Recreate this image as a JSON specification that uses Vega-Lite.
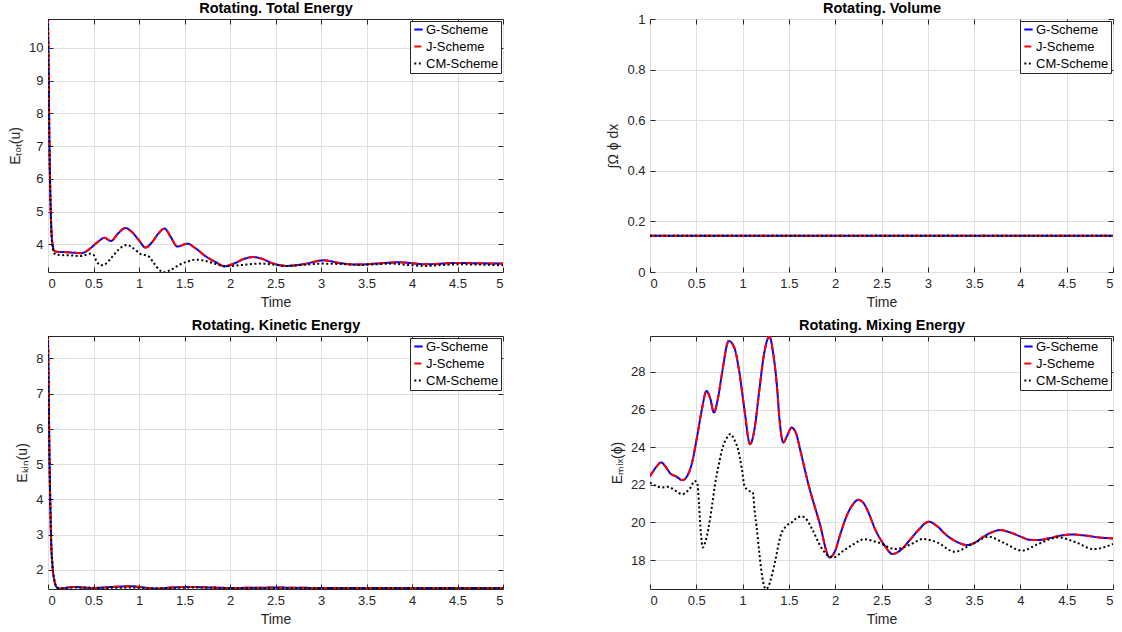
{
  "$schema": "https://vega.github.io/schema/vega-lite/v6.json",
  "autosize": {"type": "pad"},
  "padding": {"left": 8, "top": 0, "right": 0, "bottom": 0},
  "background": "white",
  "bounds": "flush",
  "spacing": {"row": 64, "column": 147},
  "columns": 2,
  "datasets": {
    "all": [
      {"p":"a","s":"G-Scheme","t":0,"v":10.88},{"p":"a","s":"G-Scheme","t":0.008,"v":9.0},{"p":"a","s":"G-Scheme","t":0.015,"v":7.2},{"p":"a","s":"G-Scheme","t":0.025,"v":5.6},{"p":"a","s":"G-Scheme","t":0.035,"v":4.6},{"p":"a","s":"G-Scheme","t":0.05,"v":4.0},{"p":"a","s":"G-Scheme","t":0.07,"v":3.8},{"p":"a","s":"G-Scheme","t":0.1,"v":3.77},{"p":"a","s":"G-Scheme","t":0.2,"v":3.76},{"p":"a","s":"G-Scheme","t":0.3,"v":3.74},{"p":"a","s":"G-Scheme","t":0.37,"v":3.73},{"p":"a","s":"G-Scheme","t":0.44,"v":3.82},{"p":"a","s":"G-Scheme","t":0.5,"v":3.96},{"p":"a","s":"G-Scheme","t":0.56,"v":4.1},{"p":"a","s":"G-Scheme","t":0.62,"v":4.2},{"p":"a","s":"G-Scheme","t":0.69,"v":4.1},{"p":"a","s":"G-Scheme","t":0.77,"v":4.33},{"p":"a","s":"G-Scheme","t":0.85,"v":4.5},{"p":"a","s":"G-Scheme","t":0.92,"v":4.38},{"p":"a","s":"G-Scheme","t":1.0,"v":4.12},{"p":"a","s":"G-Scheme","t":1.07,"v":3.9},{"p":"a","s":"G-Scheme","t":1.14,"v":4.05},{"p":"a","s":"G-Scheme","t":1.21,"v":4.32},{"p":"a","s":"G-Scheme","t":1.28,"v":4.48},{"p":"a","s":"G-Scheme","t":1.35,"v":4.22},{"p":"a","s":"G-Scheme","t":1.42,"v":3.93},{"p":"a","s":"G-Scheme","t":1.53,"v":4.02},{"p":"a","s":"G-Scheme","t":1.62,"v":3.88},{"p":"a","s":"G-Scheme","t":1.73,"v":3.64},{"p":"a","s":"G-Scheme","t":1.84,"v":3.46},{"p":"a","s":"G-Scheme","t":1.94,"v":3.33},{"p":"a","s":"G-Scheme","t":2.05,"v":3.42},{"p":"a","s":"G-Scheme","t":2.15,"v":3.55},{"p":"a","s":"G-Scheme","t":2.25,"v":3.61},{"p":"a","s":"G-Scheme","t":2.35,"v":3.56},{"p":"a","s":"G-Scheme","t":2.45,"v":3.44},{"p":"a","s":"G-Scheme","t":2.62,"v":3.34},{"p":"a","s":"G-Scheme","t":2.8,"v":3.39},{"p":"a","s":"G-Scheme","t":3.03,"v":3.51},{"p":"a","s":"G-Scheme","t":3.2,"v":3.43},{"p":"a","s":"G-Scheme","t":3.4,"v":3.38},{"p":"a","s":"G-Scheme","t":3.6,"v":3.41},{"p":"a","s":"G-Scheme","t":3.86,"v":3.45},{"p":"a","s":"G-Scheme","t":4.15,"v":3.39},{"p":"a","s":"G-Scheme","t":4.5,"v":3.43},{"p":"a","s":"G-Scheme","t":4.75,"v":3.42},{"p":"a","s":"G-Scheme","t":5.0,"v":3.41},
      {"p":"a","s":"J-Scheme","t":0,"v":10.88},{"p":"a","s":"J-Scheme","t":0.008,"v":9.0},{"p":"a","s":"J-Scheme","t":0.015,"v":7.2},{"p":"a","s":"J-Scheme","t":0.025,"v":5.6},{"p":"a","s":"J-Scheme","t":0.035,"v":4.6},{"p":"a","s":"J-Scheme","t":0.05,"v":4.0},{"p":"a","s":"J-Scheme","t":0.07,"v":3.8},{"p":"a","s":"J-Scheme","t":0.1,"v":3.77},{"p":"a","s":"J-Scheme","t":0.2,"v":3.76},{"p":"a","s":"J-Scheme","t":0.3,"v":3.74},{"p":"a","s":"J-Scheme","t":0.37,"v":3.73},{"p":"a","s":"J-Scheme","t":0.44,"v":3.82},{"p":"a","s":"J-Scheme","t":0.5,"v":3.96},{"p":"a","s":"J-Scheme","t":0.56,"v":4.1},{"p":"a","s":"J-Scheme","t":0.62,"v":4.2},{"p":"a","s":"J-Scheme","t":0.69,"v":4.1},{"p":"a","s":"J-Scheme","t":0.77,"v":4.33},{"p":"a","s":"J-Scheme","t":0.85,"v":4.5},{"p":"a","s":"J-Scheme","t":0.92,"v":4.38},{"p":"a","s":"J-Scheme","t":1.0,"v":4.12},{"p":"a","s":"J-Scheme","t":1.07,"v":3.9},{"p":"a","s":"J-Scheme","t":1.14,"v":4.05},{"p":"a","s":"J-Scheme","t":1.21,"v":4.32},{"p":"a","s":"J-Scheme","t":1.28,"v":4.48},{"p":"a","s":"J-Scheme","t":1.35,"v":4.22},{"p":"a","s":"J-Scheme","t":1.42,"v":3.93},{"p":"a","s":"J-Scheme","t":1.53,"v":4.02},{"p":"a","s":"J-Scheme","t":1.62,"v":3.88},{"p":"a","s":"J-Scheme","t":1.73,"v":3.64},{"p":"a","s":"J-Scheme","t":1.84,"v":3.46},{"p":"a","s":"J-Scheme","t":1.94,"v":3.33},{"p":"a","s":"J-Scheme","t":2.05,"v":3.42},{"p":"a","s":"J-Scheme","t":2.15,"v":3.55},{"p":"a","s":"J-Scheme","t":2.25,"v":3.61},{"p":"a","s":"J-Scheme","t":2.35,"v":3.56},{"p":"a","s":"J-Scheme","t":2.45,"v":3.44},{"p":"a","s":"J-Scheme","t":2.62,"v":3.34},{"p":"a","s":"J-Scheme","t":2.8,"v":3.39},{"p":"a","s":"J-Scheme","t":3.03,"v":3.51},{"p":"a","s":"J-Scheme","t":3.2,"v":3.43},{"p":"a","s":"J-Scheme","t":3.4,"v":3.38},{"p":"a","s":"J-Scheme","t":3.6,"v":3.41},{"p":"a","s":"J-Scheme","t":3.86,"v":3.45},{"p":"a","s":"J-Scheme","t":4.15,"v":3.39},{"p":"a","s":"J-Scheme","t":4.5,"v":3.43},{"p":"a","s":"J-Scheme","t":4.75,"v":3.42},{"p":"a","s":"J-Scheme","t":5.0,"v":3.41},
      {"p":"a","s":"CM-Scheme","t":0,"v":10.88},{"p":"a","s":"CM-Scheme","t":0.008,"v":9.0},{"p":"a","s":"CM-Scheme","t":0.015,"v":7.2},{"p":"a","s":"CM-Scheme","t":0.025,"v":5.6},{"p":"a","s":"CM-Scheme","t":0.035,"v":4.5},{"p":"a","s":"CM-Scheme","t":0.05,"v":3.9},{"p":"a","s":"CM-Scheme","t":0.07,"v":3.72},{"p":"a","s":"CM-Scheme","t":0.1,"v":3.68},{"p":"a","s":"CM-Scheme","t":0.25,"v":3.66},{"p":"a","s":"CM-Scheme","t":0.37,"v":3.64},{"p":"a","s":"CM-Scheme","t":0.46,"v":3.71},{"p":"a","s":"CM-Scheme","t":0.5,"v":3.68},{"p":"a","s":"CM-Scheme","t":0.53,"v":3.5},{"p":"a","s":"CM-Scheme","t":0.58,"v":3.36},{"p":"a","s":"CM-Scheme","t":0.62,"v":3.38},{"p":"a","s":"CM-Scheme","t":0.7,"v":3.6},{"p":"a","s":"CM-Scheme","t":0.78,"v":3.85},{"p":"a","s":"CM-Scheme","t":0.87,"v":3.98},{"p":"a","s":"CM-Scheme","t":0.95,"v":3.85},{"p":"a","s":"CM-Scheme","t":1.02,"v":3.7},{"p":"a","s":"CM-Scheme","t":1.1,"v":3.64},{"p":"a","s":"CM-Scheme","t":1.17,"v":3.4},{"p":"a","s":"CM-Scheme","t":1.23,"v":3.2},{"p":"a","s":"CM-Scheme","t":1.28,"v":3.15},{"p":"a","s":"CM-Scheme","t":1.35,"v":3.22},{"p":"a","s":"CM-Scheme","t":1.44,"v":3.37},{"p":"a","s":"CM-Scheme","t":1.53,"v":3.47},{"p":"a","s":"CM-Scheme","t":1.62,"v":3.53},{"p":"a","s":"CM-Scheme","t":1.72,"v":3.5},{"p":"a","s":"CM-Scheme","t":1.82,"v":3.42},{"p":"a","s":"CM-Scheme","t":1.95,"v":3.33},{"p":"a","s":"CM-Scheme","t":2.1,"v":3.36},{"p":"a","s":"CM-Scheme","t":2.32,"v":3.41},{"p":"a","s":"CM-Scheme","t":2.45,"v":3.39},{"p":"a","s":"CM-Scheme","t":2.61,"v":3.34},{"p":"a","s":"CM-Scheme","t":2.8,"v":3.37},{"p":"a","s":"CM-Scheme","t":3.01,"v":3.41},{"p":"a","s":"CM-Scheme","t":3.2,"v":3.4},{"p":"a","s":"CM-Scheme","t":3.42,"v":3.37},{"p":"a","s":"CM-Scheme","t":3.6,"v":3.39},{"p":"a","s":"CM-Scheme","t":3.78,"v":3.41},{"p":"a","s":"CM-Scheme","t":3.95,"v":3.37},{"p":"a","s":"CM-Scheme","t":4.15,"v":3.34},{"p":"a","s":"CM-Scheme","t":4.35,"v":3.37},{"p":"a","s":"CM-Scheme","t":4.52,"v":3.39},{"p":"a","s":"CM-Scheme","t":4.75,"v":3.38},{"p":"a","s":"CM-Scheme","t":5.0,"v":3.36},
      {"p":"b","s":"G-Scheme","t":0,"v":0.1435},{"p":"b","s":"G-Scheme","t":5,"v":0.1435},
      {"p":"b","s":"J-Scheme","t":0,"v":0.1435},{"p":"b","s":"J-Scheme","t":5,"v":0.1435},
      {"p":"b","s":"CM-Scheme","t":0,"v":0.1435},{"p":"b","s":"CM-Scheme","t":5,"v":0.1435},
      {"p":"c","s":"G-Scheme","t":0,"v":8.62},{"p":"c","s":"G-Scheme","t":0.008,"v":7.0},{"p":"c","s":"G-Scheme","t":0.015,"v":5.4},{"p":"c","s":"G-Scheme","t":0.025,"v":3.9},{"p":"c","s":"G-Scheme","t":0.035,"v":2.8},{"p":"c","s":"G-Scheme","t":0.05,"v":2.1},{"p":"c","s":"G-Scheme","t":0.07,"v":1.7},{"p":"c","s":"G-Scheme","t":0.1,"v":1.5},{"p":"c","s":"G-Scheme","t":0.13,"v":1.47},{"p":"c","s":"G-Scheme","t":0.18,"v":1.49},{"p":"c","s":"G-Scheme","t":0.28,"v":1.52},{"p":"c","s":"G-Scheme","t":0.4,"v":1.5},{"p":"c","s":"G-Scheme","t":0.5,"v":1.49},{"p":"c","s":"G-Scheme","t":0.65,"v":1.51},{"p":"c","s":"G-Scheme","t":0.8,"v":1.53},{"p":"c","s":"G-Scheme","t":0.9,"v":1.54},{"p":"c","s":"G-Scheme","t":1.0,"v":1.52},{"p":"c","s":"G-Scheme","t":1.1,"v":1.49},{"p":"c","s":"G-Scheme","t":1.2,"v":1.47},{"p":"c","s":"G-Scheme","t":1.35,"v":1.5},{"p":"c","s":"G-Scheme","t":1.55,"v":1.52},{"p":"c","s":"G-Scheme","t":1.7,"v":1.51},{"p":"c","s":"G-Scheme","t":2.0,"v":1.49},{"p":"c","s":"G-Scheme","t":2.5,"v":1.5},{"p":"c","s":"G-Scheme","t":3.0,"v":1.49},{"p":"c","s":"G-Scheme","t":3.5,"v":1.49},{"p":"c","s":"G-Scheme","t":4.0,"v":1.49},{"p":"c","s":"G-Scheme","t":4.5,"v":1.49},{"p":"c","s":"G-Scheme","t":5.0,"v":1.49},
      {"p":"c","s":"J-Scheme","t":0,"v":8.62},{"p":"c","s":"J-Scheme","t":0.008,"v":7.0},{"p":"c","s":"J-Scheme","t":0.015,"v":5.4},{"p":"c","s":"J-Scheme","t":0.025,"v":3.9},{"p":"c","s":"J-Scheme","t":0.035,"v":2.8},{"p":"c","s":"J-Scheme","t":0.05,"v":2.1},{"p":"c","s":"J-Scheme","t":0.07,"v":1.7},{"p":"c","s":"J-Scheme","t":0.1,"v":1.5},{"p":"c","s":"J-Scheme","t":0.13,"v":1.47},{"p":"c","s":"J-Scheme","t":0.18,"v":1.49},{"p":"c","s":"J-Scheme","t":0.28,"v":1.52},{"p":"c","s":"J-Scheme","t":0.4,"v":1.5},{"p":"c","s":"J-Scheme","t":0.5,"v":1.49},{"p":"c","s":"J-Scheme","t":0.65,"v":1.51},{"p":"c","s":"J-Scheme","t":0.8,"v":1.53},{"p":"c","s":"J-Scheme","t":0.9,"v":1.54},{"p":"c","s":"J-Scheme","t":1.0,"v":1.52},{"p":"c","s":"J-Scheme","t":1.1,"v":1.49},{"p":"c","s":"J-Scheme","t":1.2,"v":1.47},{"p":"c","s":"J-Scheme","t":1.35,"v":1.5},{"p":"c","s":"J-Scheme","t":1.55,"v":1.52},{"p":"c","s":"J-Scheme","t":1.7,"v":1.51},{"p":"c","s":"J-Scheme","t":2.0,"v":1.49},{"p":"c","s":"J-Scheme","t":2.5,"v":1.5},{"p":"c","s":"J-Scheme","t":3.0,"v":1.49},{"p":"c","s":"J-Scheme","t":3.5,"v":1.49},{"p":"c","s":"J-Scheme","t":4.0,"v":1.49},{"p":"c","s":"J-Scheme","t":4.5,"v":1.49},{"p":"c","s":"J-Scheme","t":5.0,"v":1.49},
      {"p":"c","s":"CM-Scheme","t":0,"v":8.62},{"p":"c","s":"CM-Scheme","t":0.008,"v":7.0},{"p":"c","s":"CM-Scheme","t":0.015,"v":5.4},{"p":"c","s":"CM-Scheme","t":0.025,"v":3.9},{"p":"c","s":"CM-Scheme","t":0.035,"v":2.8},{"p":"c","s":"CM-Scheme","t":0.05,"v":2.1},{"p":"c","s":"CM-Scheme","t":0.07,"v":1.7},{"p":"c","s":"CM-Scheme","t":0.1,"v":1.5},{"p":"c","s":"CM-Scheme","t":0.13,"v":1.47},{"p":"c","s":"CM-Scheme","t":0.3,"v":1.5},{"p":"c","s":"CM-Scheme","t":0.6,"v":1.49},{"p":"c","s":"CM-Scheme","t":0.9,"v":1.5},{"p":"c","s":"CM-Scheme","t":1.2,"v":1.48},{"p":"c","s":"CM-Scheme","t":1.6,"v":1.5},{"p":"c","s":"CM-Scheme","t":2.0,"v":1.49},{"p":"c","s":"CM-Scheme","t":3.0,"v":1.49},{"p":"c","s":"CM-Scheme","t":4.0,"v":1.49},{"p":"c","s":"CM-Scheme","t":5.0,"v":1.49},
      {"p":"d","s":"G-Scheme","t":0,"v":22.45},{"p":"d","s":"G-Scheme","t":0.06,"v":22.9},{"p":"d","s":"G-Scheme","t":0.12,"v":23.19},{"p":"d","s":"G-Scheme","t":0.17,"v":22.95},{"p":"d","s":"G-Scheme","t":0.22,"v":22.6},{"p":"d","s":"G-Scheme","t":0.28,"v":22.45},{"p":"d","s":"G-Scheme","t":0.35,"v":22.25},{"p":"d","s":"G-Scheme","t":0.4,"v":22.45},{"p":"d","s":"G-Scheme","t":0.45,"v":23.1},{"p":"d","s":"G-Scheme","t":0.51,"v":24.6},{"p":"d","s":"G-Scheme","t":0.56,"v":26.0},{"p":"d","s":"G-Scheme","t":0.61,"v":26.99},{"p":"d","s":"G-Scheme","t":0.65,"v":26.6},{"p":"d","s":"G-Scheme","t":0.69,"v":25.84},{"p":"d","s":"G-Scheme","t":0.73,"v":26.5},{"p":"d","s":"G-Scheme","t":0.78,"v":28.0},{"p":"d","s":"G-Scheme","t":0.85,"v":29.65},{"p":"d","s":"G-Scheme","t":0.91,"v":29.3},{"p":"d","s":"G-Scheme","t":0.96,"v":28.14},{"p":"d","s":"G-Scheme","t":1.02,"v":26.0},{"p":"d","s":"G-Scheme","t":1.08,"v":24.16},{"p":"d","s":"G-Scheme","t":1.13,"v":25.0},{"p":"d","s":"G-Scheme","t":1.18,"v":27.0},{"p":"d","s":"G-Scheme","t":1.23,"v":28.9},{"p":"d","s":"G-Scheme","t":1.29,"v":29.88},{"p":"d","s":"G-Scheme","t":1.33,"v":29.0},{"p":"d","s":"G-Scheme","t":1.37,"v":27.3},{"p":"d","s":"G-Scheme","t":1.4,"v":25.4},{"p":"d","s":"G-Scheme","t":1.44,"v":24.25},{"p":"d","s":"G-Scheme","t":1.48,"v":24.6},{"p":"d","s":"G-Scheme","t":1.53,"v":25.04},{"p":"d","s":"G-Scheme","t":1.58,"v":24.7},{"p":"d","s":"G-Scheme","t":1.62,"v":23.9},{"p":"d","s":"G-Scheme","t":1.71,"v":22.04},{"p":"d","s":"G-Scheme","t":1.83,"v":20.0},{"p":"d","s":"G-Scheme","t":1.94,"v":18.14},{"p":"d","s":"G-Scheme","t":2.0,"v":18.5},{"p":"d","s":"G-Scheme","t":2.05,"v":19.29},{"p":"d","s":"G-Scheme","t":2.12,"v":20.3},{"p":"d","s":"G-Scheme","t":2.19,"v":20.95},{"p":"d","s":"G-Scheme","t":2.25,"v":21.2},{"p":"d","s":"G-Scheme","t":2.31,"v":21.0},{"p":"d","s":"G-Scheme","t":2.37,"v":20.4},{"p":"d","s":"G-Scheme","t":2.43,"v":19.65},{"p":"d","s":"G-Scheme","t":2.53,"v":18.8},{"p":"d","s":"G-Scheme","t":2.62,"v":18.32},{"p":"d","s":"G-Scheme","t":2.7,"v":18.5},{"p":"d","s":"G-Scheme","t":2.8,"v":19.03},{"p":"d","s":"G-Scheme","t":2.9,"v":19.6},{"p":"d","s":"G-Scheme","t":3.01,"v":20.04},{"p":"d","s":"G-Scheme","t":3.1,"v":19.8},{"p":"d","s":"G-Scheme","t":3.21,"v":19.29},{"p":"d","s":"G-Scheme","t":3.32,"v":18.95},{"p":"d","s":"G-Scheme","t":3.42,"v":18.8},{"p":"d","s":"G-Scheme","t":3.5,"v":18.9},{"p":"d","s":"G-Scheme","t":3.59,"v":19.2},{"p":"d","s":"G-Scheme","t":3.68,"v":19.45},{"p":"d","s":"G-Scheme","t":3.78,"v":19.59},{"p":"d","s":"G-Scheme","t":3.9,"v":19.45},{"p":"d","s":"G-Scheme","t":4.0,"v":19.25},{"p":"d","s":"G-Scheme","t":4.1,"v":19.08},{"p":"d","s":"G-Scheme","t":4.19,"v":19.06},{"p":"d","s":"G-Scheme","t":4.3,"v":19.15},{"p":"d","s":"G-Scheme","t":4.45,"v":19.31},{"p":"d","s":"G-Scheme","t":4.56,"v":19.36},{"p":"d","s":"G-Scheme","t":4.7,"v":19.3},{"p":"d","s":"G-Scheme","t":4.85,"v":19.2},{"p":"d","s":"G-Scheme","t":5.0,"v":19.15},
      {"p":"d","s":"J-Scheme","t":0,"v":22.45},{"p":"d","s":"J-Scheme","t":0.06,"v":22.9},{"p":"d","s":"J-Scheme","t":0.12,"v":23.19},{"p":"d","s":"J-Scheme","t":0.17,"v":22.95},{"p":"d","s":"J-Scheme","t":0.22,"v":22.6},{"p":"d","s":"J-Scheme","t":0.28,"v":22.45},{"p":"d","s":"J-Scheme","t":0.35,"v":22.25},{"p":"d","s":"J-Scheme","t":0.4,"v":22.45},{"p":"d","s":"J-Scheme","t":0.45,"v":23.1},{"p":"d","s":"J-Scheme","t":0.51,"v":24.6},{"p":"d","s":"J-Scheme","t":0.56,"v":26.0},{"p":"d","s":"J-Scheme","t":0.61,"v":26.99},{"p":"d","s":"J-Scheme","t":0.65,"v":26.6},{"p":"d","s":"J-Scheme","t":0.69,"v":25.84},{"p":"d","s":"J-Scheme","t":0.73,"v":26.5},{"p":"d","s":"J-Scheme","t":0.78,"v":28.0},{"p":"d","s":"J-Scheme","t":0.85,"v":29.65},{"p":"d","s":"J-Scheme","t":0.91,"v":29.3},{"p":"d","s":"J-Scheme","t":0.96,"v":28.14},{"p":"d","s":"J-Scheme","t":1.02,"v":26.0},{"p":"d","s":"J-Scheme","t":1.08,"v":24.16},{"p":"d","s":"J-Scheme","t":1.13,"v":25.0},{"p":"d","s":"J-Scheme","t":1.18,"v":27.0},{"p":"d","s":"J-Scheme","t":1.23,"v":28.9},{"p":"d","s":"J-Scheme","t":1.29,"v":29.88},{"p":"d","s":"J-Scheme","t":1.33,"v":29.0},{"p":"d","s":"J-Scheme","t":1.37,"v":27.3},{"p":"d","s":"J-Scheme","t":1.4,"v":25.4},{"p":"d","s":"J-Scheme","t":1.44,"v":24.25},{"p":"d","s":"J-Scheme","t":1.48,"v":24.6},{"p":"d","s":"J-Scheme","t":1.53,"v":25.04},{"p":"d","s":"J-Scheme","t":1.58,"v":24.7},{"p":"d","s":"J-Scheme","t":1.62,"v":23.9},{"p":"d","s":"J-Scheme","t":1.71,"v":22.04},{"p":"d","s":"J-Scheme","t":1.83,"v":20.0},{"p":"d","s":"J-Scheme","t":1.94,"v":18.14},{"p":"d","s":"J-Scheme","t":2.0,"v":18.5},{"p":"d","s":"J-Scheme","t":2.05,"v":19.29},{"p":"d","s":"J-Scheme","t":2.12,"v":20.3},{"p":"d","s":"J-Scheme","t":2.19,"v":20.95},{"p":"d","s":"J-Scheme","t":2.25,"v":21.2},{"p":"d","s":"J-Scheme","t":2.31,"v":21.0},{"p":"d","s":"J-Scheme","t":2.37,"v":20.4},{"p":"d","s":"J-Scheme","t":2.43,"v":19.65},{"p":"d","s":"J-Scheme","t":2.53,"v":18.8},{"p":"d","s":"J-Scheme","t":2.62,"v":18.32},{"p":"d","s":"J-Scheme","t":2.7,"v":18.5},{"p":"d","s":"J-Scheme","t":2.8,"v":19.03},{"p":"d","s":"J-Scheme","t":2.9,"v":19.6},{"p":"d","s":"J-Scheme","t":3.01,"v":20.04},{"p":"d","s":"J-Scheme","t":3.1,"v":19.8},{"p":"d","s":"J-Scheme","t":3.21,"v":19.29},{"p":"d","s":"J-Scheme","t":3.32,"v":18.95},{"p":"d","s":"J-Scheme","t":3.42,"v":18.8},{"p":"d","s":"J-Scheme","t":3.5,"v":18.9},{"p":"d","s":"J-Scheme","t":3.59,"v":19.2},{"p":"d","s":"J-Scheme","t":3.68,"v":19.45},{"p":"d","s":"J-Scheme","t":3.78,"v":19.59},{"p":"d","s":"J-Scheme","t":3.9,"v":19.45},{"p":"d","s":"J-Scheme","t":4.0,"v":19.25},{"p":"d","s":"J-Scheme","t":4.1,"v":19.08},{"p":"d","s":"J-Scheme","t":4.19,"v":19.06},{"p":"d","s":"J-Scheme","t":4.3,"v":19.15},{"p":"d","s":"J-Scheme","t":4.45,"v":19.31},{"p":"d","s":"J-Scheme","t":4.56,"v":19.36},{"p":"d","s":"J-Scheme","t":4.7,"v":19.3},{"p":"d","s":"J-Scheme","t":4.85,"v":19.2},{"p":"d","s":"J-Scheme","t":5.0,"v":19.15},
      {"p":"d","s":"CM-Scheme","t":0,"v":22.12},{"p":"d","s":"CM-Scheme","t":0.06,"v":21.95},{"p":"d","s":"CM-Scheme","t":0.12,"v":21.86},{"p":"d","s":"CM-Scheme","t":0.2,"v":21.89},{"p":"d","s":"CM-Scheme","t":0.27,"v":21.7},{"p":"d","s":"CM-Scheme","t":0.35,"v":21.5},{"p":"d","s":"CM-Scheme","t":0.4,"v":21.65},{"p":"d","s":"CM-Scheme","t":0.44,"v":21.86},{"p":"d","s":"CM-Scheme","t":0.48,"v":22.2},{"p":"d","s":"CM-Scheme","t":0.51,"v":22.1},{"p":"d","s":"CM-Scheme","t":0.53,"v":20.9},{"p":"d","s":"CM-Scheme","t":0.55,"v":19.4},{"p":"d","s":"CM-Scheme","t":0.57,"v":18.67},{"p":"d","s":"CM-Scheme","t":0.6,"v":19.0},{"p":"d","s":"CM-Scheme","t":0.63,"v":19.65},{"p":"d","s":"CM-Scheme","t":0.67,"v":20.9},{"p":"d","s":"CM-Scheme","t":0.7,"v":21.95},{"p":"d","s":"CM-Scheme","t":0.74,"v":23.0},{"p":"d","s":"CM-Scheme","t":0.78,"v":23.9},{"p":"d","s":"CM-Scheme","t":0.83,"v":24.5},{"p":"d","s":"CM-Scheme","t":0.87,"v":24.7},{"p":"d","s":"CM-Scheme","t":0.91,"v":24.4},{"p":"d","s":"CM-Scheme","t":0.95,"v":23.9},{"p":"d","s":"CM-Scheme","t":0.99,"v":22.9},{"p":"d","s":"CM-Scheme","t":1.02,"v":21.95},{"p":"d","s":"CM-Scheme","t":1.06,"v":21.7},{"p":"d","s":"CM-Scheme","t":1.11,"v":21.6},{"p":"d","s":"CM-Scheme","t":1.13,"v":20.6},{"p":"d","s":"CM-Scheme","t":1.15,"v":19.82},{"p":"d","s":"CM-Scheme","t":1.18,"v":18.4},{"p":"d","s":"CM-Scheme","t":1.21,"v":17.17},{"p":"d","s":"CM-Scheme","t":1.25,"v":16.46},{"p":"d","s":"CM-Scheme","t":1.28,"v":16.6},{"p":"d","s":"CM-Scheme","t":1.3,"v":16.9},{"p":"d","s":"CM-Scheme","t":1.35,"v":17.9},{"p":"d","s":"CM-Scheme","t":1.41,"v":19.29},{"p":"d","s":"CM-Scheme","t":1.47,"v":19.8},{"p":"d","s":"CM-Scheme","t":1.53,"v":20.0},{"p":"d","s":"CM-Scheme","t":1.59,"v":20.25},{"p":"d","s":"CM-Scheme","t":1.64,"v":20.32},{"p":"d","s":"CM-Scheme","t":1.7,"v":20.1},{"p":"d","s":"CM-Scheme","t":1.75,"v":19.65},{"p":"d","s":"CM-Scheme","t":1.86,"v":18.58},{"p":"d","s":"CM-Scheme","t":1.93,"v":18.2},{"p":"d","s":"CM-Scheme","t":1.98,"v":18.14},{"p":"d","s":"CM-Scheme","t":2.09,"v":18.5},{"p":"d","s":"CM-Scheme","t":2.2,"v":18.85},{"p":"d","s":"CM-Scheme","t":2.31,"v":19.1},{"p":"d","s":"CM-Scheme","t":2.46,"v":18.94},{"p":"d","s":"CM-Scheme","t":2.65,"v":18.58},{"p":"d","s":"CM-Scheme","t":2.8,"v":18.8},{"p":"d","s":"CM-Scheme","t":2.95,"v":19.12},{"p":"d","s":"CM-Scheme","t":3.1,"v":18.94},{"p":"d","s":"CM-Scheme","t":3.29,"v":18.44},{"p":"d","s":"CM-Scheme","t":3.48,"v":18.85},{"p":"d","s":"CM-Scheme","t":3.66,"v":19.24},{"p":"d","s":"CM-Scheme","t":3.81,"v":18.94},{"p":"d","s":"CM-Scheme","t":4.02,"v":18.5},{"p":"d","s":"CM-Scheme","t":4.19,"v":18.85},{"p":"d","s":"CM-Scheme","t":4.41,"v":19.2},{"p":"d","s":"CM-Scheme","t":4.6,"v":18.94},{"p":"d","s":"CM-Scheme","t":4.79,"v":18.58},{"p":"d","s":"CM-Scheme","t":5.0,"v":18.85}
    ]
  },
  "data": {"name": "all"},
  "resolve": {"scale": {"x": "independent", "y": "independent", "color": "independent", "strokeDash": "independent"}},
  "config": {
    "font": "Liberation Sans",
    "view": {"stroke": "#262626", "strokeWidth": 1},
    "axis": {
      "labelFont": "Liberation Sans", "labelFontSize": 13, "labelColor": "#262626",
      "titleFont": "Liberation Sans", "titleFontSize": 14, "titleFontWeight": "normal", "titleColor": "#262626",
      "gridColor": "#e0e0e0", "gridWidth": 1, "domain": false,
      "tickColor": "#262626", "tickSize": -5, "tickWidth": 1
    },
    "axisBottom": {"labelPadding": 10, "titlePadding": 5},
    "axisLeft": {"labelPadding": 10, "titlePadding": 6},
    "axisTop": {"labels": false, "grid": false, "titleFontSize": 14.5, "titleFontWeight": "bold", "titleColor": "#000000", "titlePadding": 3},
    "axisRight": {"labels": false, "grid": false, "title": null},
    "legend": {
      "orient": "top-right", "offset": 2, "title": null,
      "labelFont": "Liberation Sans", "labelFontSize": 13, "labelColor": "#000000",
      "padding": 2, "rowPadding": 3, "labelOffset": 1,
      "symbolType": "stroke", "symbolSize": 70, "symbolStrokeWidth": 2,
      "strokeColor": "#262626", "fillColor": "#ffffff", "cornerRadius": 0
    }
  },
  "concat": [
    {
      "width": 455, "height": 253,
      "transform": [{"filter": "datum.p === 'a'"}],
      "layer": [
        {
          "mark": {"type": "line", "strokeWidth": 2, "clip": true, "interpolate": "monotone"},
          "encoding": {
            "x": {"field": "t", "type": "quantitative", "scale": {"domain": [0, 5], "nice": false}, "axis": {"values": [0,0.5,1,1.5,2,2.5,3,3.5,4,4.5,5], "format": "~r", "title": "Time"}},
            "y": {"field": "v", "type": "quantitative", "scale": {"domain": [3.154, 10.88], "nice": false, "zero": false}, "axis": {"values": [4,5,6,7,8,9,10], "format": "~r", "title": "Eₜₒₜ(u)"}},
            "color": {"field": "s", "type": "nominal", "sort": null, "scale": {"domain": ["G-Scheme","J-Scheme","CM-Scheme"], "range": ["#0000ff","#ff0000","#000000"]}, "legend": {"title": null}},
            "strokeDash": {"field": "s", "type": "nominal", "sort": null, "scale": {"domain": ["G-Scheme","J-Scheme","CM-Scheme"], "range": [[1,0],[7,4],[2,2.5]]}, "legend": {"title": null}}
          }
        },
        {
          "mark": {"type": "line", "opacity": 0},
          "encoding": {
            "x": {"field": "t", "type": "quantitative", "axis": {"orient": "top", "values": [0,0.5,1,1.5,2,2.5,3,3.5,4,4.5,5], "title": "Rotating. Total Energy"}},
            "y": {"field": "v", "type": "quantitative", "axis": {"orient": "right", "values": [4,5,6,7,8,9,10], "title": null}}
          }
        }
      ],
      "resolve": {"axis": {"x": "independent", "y": "independent"}}
    },
    {
      "width": 463, "height": 253,
      "transform": [{"filter": "datum.p === 'b'"}],
      "layer": [
        {
          "mark": {"type": "line", "strokeWidth": 2, "clip": true},
          "encoding": {
            "x": {"field": "t", "type": "quantitative", "scale": {"domain": [0, 5], "nice": false}, "axis": {"values": [0,0.5,1,1.5,2,2.5,3,3.5,4,4.5,5], "format": "~r", "title": "Time"}},
            "y": {"field": "v", "type": "quantitative", "scale": {"domain": [0, 1], "nice": false}, "axis": {"values": [0,0.2,0.4,0.6,0.8,1], "format": "~r", "title": "∫Ω ϕ dx"}},
            "color": {"field": "s", "type": "nominal", "sort": null, "scale": {"domain": ["G-Scheme","J-Scheme","CM-Scheme"], "range": ["#0000ff","#ff0000","#000000"]}, "legend": {"title": null}},
            "strokeDash": {"field": "s", "type": "nominal", "sort": null, "scale": {"domain": ["G-Scheme","J-Scheme","CM-Scheme"], "range": [[1,0],[7,4],[2,2.5]]}, "legend": {"title": null}}
          }
        },
        {
          "mark": {"type": "line", "opacity": 0},
          "encoding": {
            "x": {"field": "t", "type": "quantitative", "axis": {"orient": "top", "values": [0,0.5,1,1.5,2,2.5,3,3.5,4,4.5,5], "title": "Rotating. Volume"}},
            "y": {"field": "v", "type": "quantitative", "axis": {"orient": "right", "values": [0,0.2,0.4,0.6,0.8,1], "title": null}}
          }
        }
      ],
      "resolve": {"axis": {"x": "independent", "y": "independent"}}
    },
    {
      "width": 455, "height": 253,
      "transform": [{"filter": "datum.p === 'c'"}],
      "layer": [
        {
          "mark": {"type": "line", "strokeWidth": 2, "clip": true, "interpolate": "monotone"},
          "encoding": {
            "x": {"field": "t", "type": "quantitative", "scale": {"domain": [0, 5], "nice": false}, "axis": {"values": [0,0.5,1,1.5,2,2.5,3,3.5,4,4.5,5], "format": "~r", "title": "Time"}},
            "y": {"field": "v", "type": "quantitative", "scale": {"domain": [1.46, 8.63], "nice": false, "zero": false}, "axis": {"values": [2,3,4,5,6,7,8], "format": "~r", "title": "Eₖᵢₙ(u)"}},
            "color": {"field": "s", "type": "nominal", "sort": null, "scale": {"domain": ["G-Scheme","J-Scheme","CM-Scheme"], "range": ["#0000ff","#ff0000","#000000"]}, "legend": {"title": null}},
            "strokeDash": {"field": "s", "type": "nominal", "sort": null, "scale": {"domain": ["G-Scheme","J-Scheme","CM-Scheme"], "range": [[1,0],[7,4],[2,2.5]]}, "legend": {"title": null}}
          }
        },
        {
          "mark": {"type": "line", "opacity": 0},
          "encoding": {
            "x": {"field": "t", "type": "quantitative", "axis": {"orient": "top", "values": [0,0.5,1,1.5,2,2.5,3,3.5,4,4.5,5], "title": "Rotating. Kinetic Energy"}},
            "y": {"field": "v", "type": "quantitative", "axis": {"orient": "right", "values": [2,3,4,5,6,7,8], "title": null}}
          }
        }
      ],
      "resolve": {"axis": {"x": "independent", "y": "independent"}}
    },
    {
      "width": 463, "height": 253,
      "transform": [{"filter": "datum.p === 'd'"}],
      "layer": [
        {
          "mark": {"type": "line", "strokeWidth": 2, "clip": true, "interpolate": "monotone"},
          "encoding": {
            "x": {"field": "t", "type": "quantitative", "scale": {"domain": [0, 5], "nice": false}, "axis": {"values": [0,0.5,1,1.5,2,2.5,3,3.5,4,4.5,5], "format": "~r", "title": "Time"}},
            "y": {"field": "v", "type": "quantitative", "scale": {"domain": [16.46, 29.91], "nice": false, "zero": false}, "axis": {"values": [18,20,22,24,26,28], "format": "~r", "title": "Eₘᵢₓ(ϕ)"}},
            "color": {"field": "s", "type": "nominal", "sort": null, "scale": {"domain": ["G-Scheme","J-Scheme","CM-Scheme"], "range": ["#0000ff","#ff0000","#000000"]}, "legend": {"title": null}},
            "strokeDash": {"field": "s", "type": "nominal", "sort": null, "scale": {"domain": ["G-Scheme","J-Scheme","CM-Scheme"], "range": [[1,0],[7,4],[2,2.5]]}, "legend": {"title": null}}
          }
        },
        {
          "mark": {"type": "line", "opacity": 0},
          "encoding": {
            "x": {"field": "t", "type": "quantitative", "axis": {"orient": "top", "values": [0,0.5,1,1.5,2,2.5,3,3.5,4,4.5,5], "title": "Rotating. Mixing Energy"}},
            "y": {"field": "v", "type": "quantitative", "axis": {"orient": "right", "values": [18,20,22,24,26,28], "title": null}}
          }
        }
      ],
      "resolve": {"axis": {"x": "independent", "y": "independent"}}
    }
  ]
}
